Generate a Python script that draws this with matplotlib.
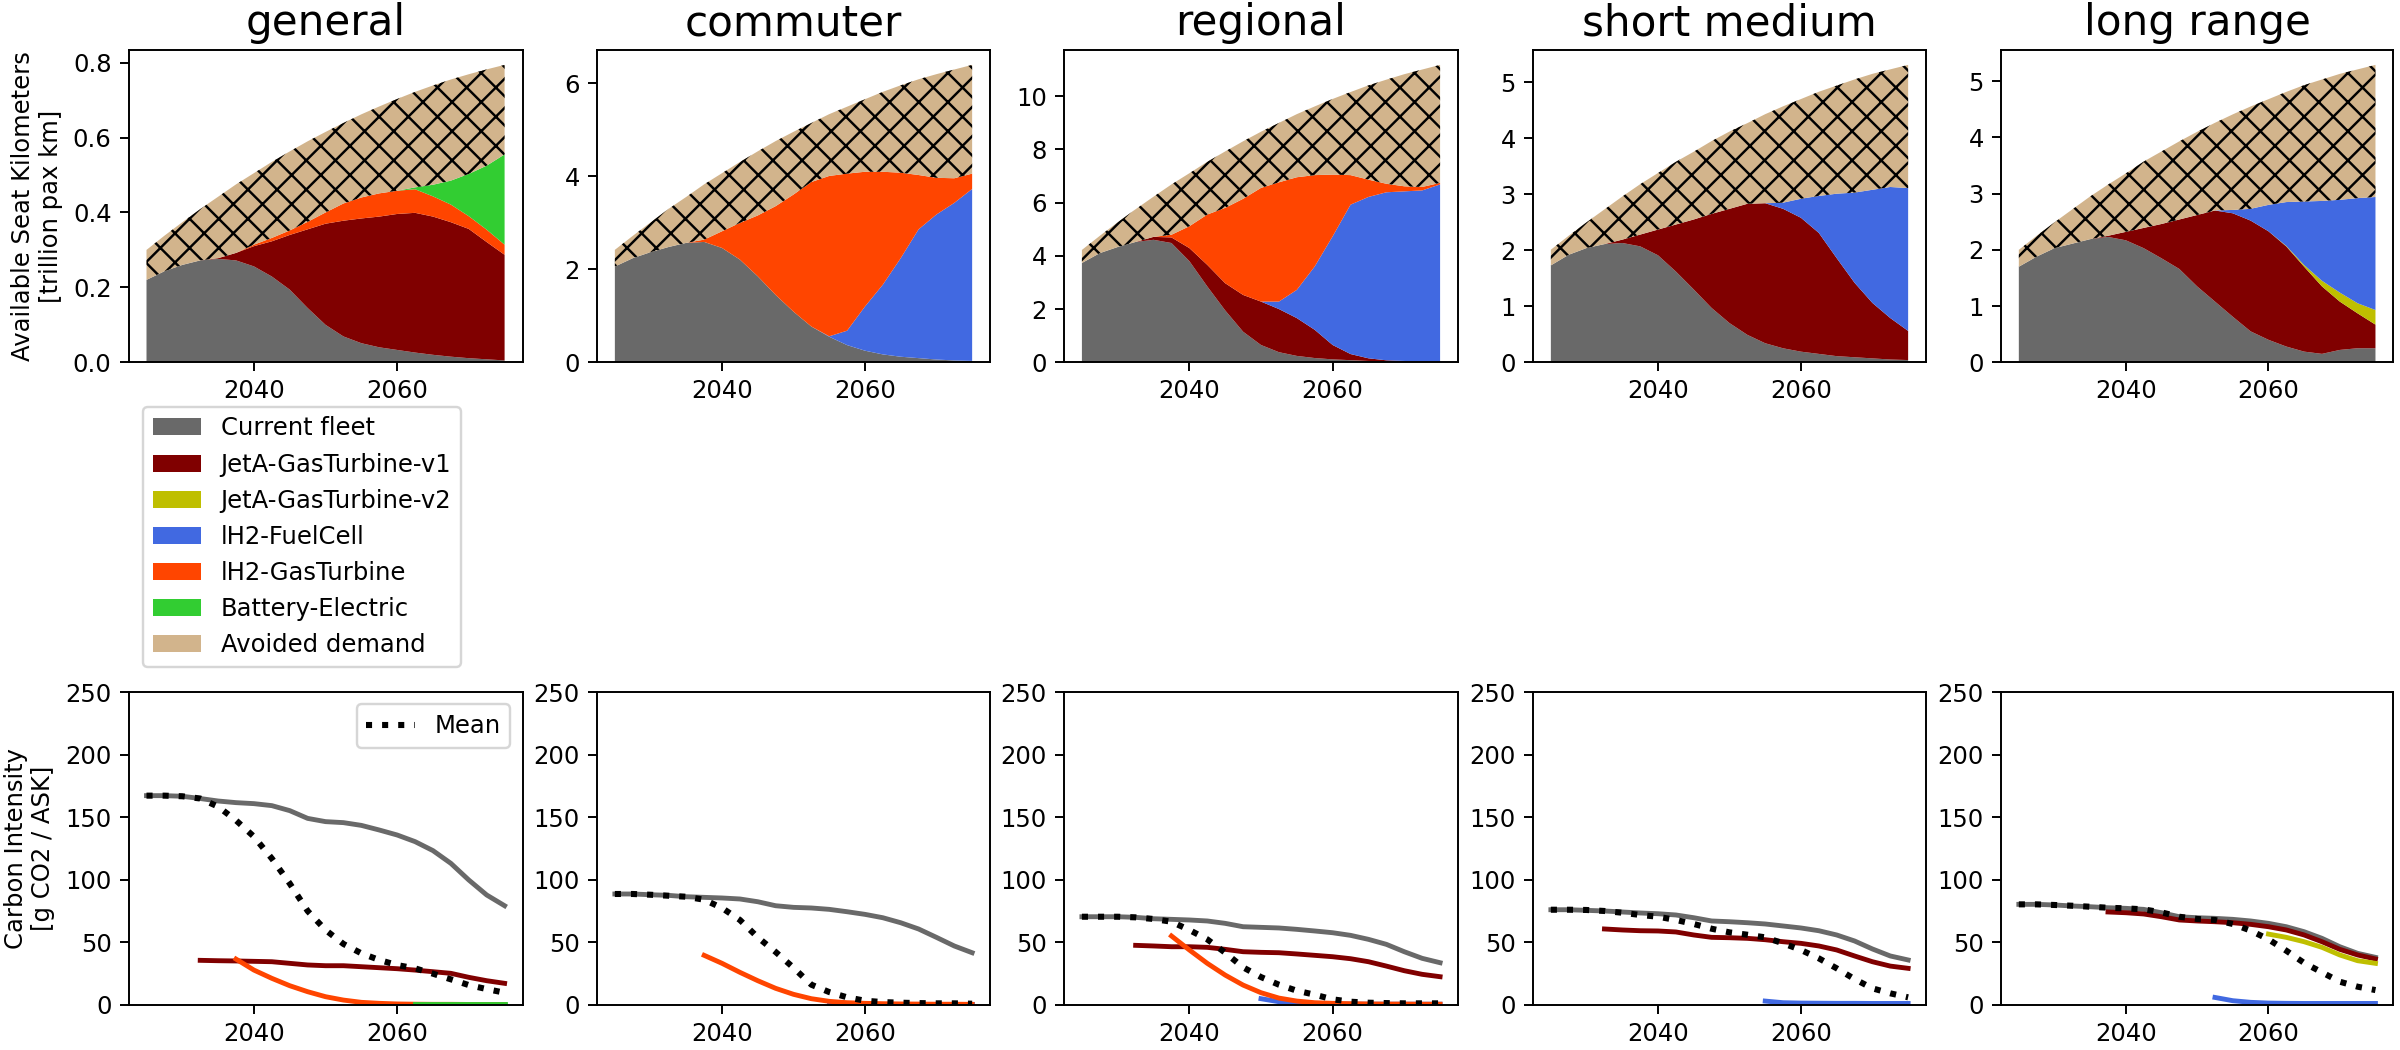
import numpy as np
import matplotlib
matplotlib.use("Agg")
import matplotlib.pyplot as plt
from matplotlib.patches import Patch

nan = np.nan

# ---------------- data ----------------
years = [2025, 2027.5, 2030, 2032.5, 2035, 2037.5, 2040, 2042.5, 2045, 2047.5,
         2050, 2052.5, 2055, 2057.5, 2060, 2062.5, 2065, 2067.5, 2070, 2072.5, 2075]

segments = ["general", "commuter", "regional", "short medium", "long range"]
technologies = ["Current fleet", "JetA-GasTurbine-v1", "JetA-GasTurbine-v2",
                "lH2-FuelCell", "lH2-GasTurbine", "Battery-Electric"]
tech_colors = ["dimgray", "maroon", "#bfbf00", "royalblue", "orangered", "limegreen"]
avoided_label = "Avoided demand"
avoided_color = "tan"

zeros = [0.0] * 21

# Available seat kilometres [trillion pax km]
gen_current = [0.220, 0.243, 0.260, 0.272, 0.276, 0.272, 0.256, 0.229, 0.194, 0.145, 0.100,
               0.069, 0.051, 0.040, 0.033, 0.026, 0.020, 0.015, 0.011, 0.008, 0.005]
gen_jeta1 = [0, 0, 0, 0, 0.002, 0.020, 0.054, 0.094, 0.146, 0.210, 0.270,
             0.309, 0.333, 0.349, 0.363, 0.373, 0.369, 0.359, 0.345, 0.313, 0.282]
gen_h2gt = [0, 0, 0, 0, 0, 0, 0.004, 0.009, 0.012, 0.020, 0.030,
            0.046, 0.056, 0.062, 0.062, 0.063, 0.054, 0.047, 0.034, 0.033, 0.027]
gen_batt = [0, 0, 0, 0, 0, 0, 0, 0, 0, 0, 0, 0, 0, 0, 0,
            0.005, 0.031, 0.064, 0.113, 0.171, 0.241]
gen_avoided = [0.080, 0.095, 0.114, 0.137, 0.164, 0.183, 0.191, 0.203, 0.211, 0.215, 0.215,
               0.215, 0.222, 0.232, 0.245, 0.255, 0.265, 0.270, 0.266, 0.257, 0.239]

com_current = [2.06, 2.24, 2.37, 2.48, 2.57, 2.59, 2.46, 2.21, 1.85, 1.45, 1.09,
               0.77, 0.55, 0.37, 0.25, 0.17, 0.12, 0.09, 0.06, 0.04, 0.03]
com_fc = [0, 0, 0, 0, 0, 0, 0, 0, 0, 0, 0, 0,
          0.01, 0.31, 0.95, 1.50, 2.12, 2.77, 3.12, 3.39, 3.70]
com_h2gt = [0, 0, 0, 0, 0, 0.05, 0.36, 0.79, 1.31, 1.91, 2.52,
            3.11, 3.45, 3.38, 2.90, 2.43, 1.84, 1.17, 0.79, 0.53, 0.33]
com_avoided = [0.36, 0.48, 0.64, 0.82, 0.99, 1.19, 1.25, 1.31, 1.38, 1.40, 1.35,
               1.27, 1.33, 1.44, 1.56, 1.72, 1.88, 2.06, 2.23, 2.34, 2.34]

reg_current = [3.73, 4.10, 4.33, 4.52, 4.60, 4.48, 3.80, 2.85, 1.95, 1.15, 0.65,
               0.38, 0.24, 0.16, 0.11, 0.08, 0.05, 0.04, 0.03, 0.02, 0.01]
reg_jeta1 = [0, 0, 0, 0, 0.11, 0.21, 0.49, 0.81, 1.02, 1.38, 1.63,
             1.62, 1.42, 1.06, 0.54, 0.23, 0.10, 0.035, 0.02, 0.005, 0]
reg_fc = [0, 0, 0, 0, 0, 0, 0, 0, 0, 0, 0,
          0.28, 1.06, 2.38, 4.08, 5.61, 6.06, 6.31, 6.37, 6.43, 6.67]
reg_h2gt = [0, 0, 0, 0, 0, 0.10, 0.82, 1.89, 2.83, 3.61, 4.27,
            4.48, 4.23, 3.43, 2.32, 1.11, 0.65, 0.32, 0.19, 0.13, 0.06]
reg_avoided = [0.49, 0.65, 0.93, 1.23, 1.51, 1.89, 1.99, 1.98, 2.12, 2.16, 2.11,
               2.23, 2.37, 2.58, 2.84, 3.12, 3.54, 3.91, 4.21, 4.41, 4.43]

sm_current = [1.73, 1.92, 2.04, 2.11, 2.13, 2.07, 1.91, 1.62, 1.30, 0.97, 0.70,
              0.49, 0.34, 0.25, 0.19, 0.15, 0.11, 0.09, 0.07, 0.05, 0.04]
sm_jeta1 = [0, 0, 0, 0, 0.06, 0.21, 0.46, 0.84, 1.25, 1.68, 2.04,
            2.34, 2.50, 2.49, 2.39, 2.16, 1.75, 1.33, 0.99, 0.74, 0.52]
sm_fc = [0, 0, 0, 0, 0, 0, 0, 0, 0, 0, 0, 0, 0,
         0.11, 0.34, 0.66, 1.15, 1.61, 2.02, 2.34, 2.55]
sm_avoided = [0.28, 0.34, 0.46, 0.62, 0.77, 0.90, 1.01, 1.12, 1.21, 1.30, 1.38,
              1.44, 1.59, 1.72, 1.78, 1.86, 1.93, 2.02, 2.07, 2.10, 2.20]

lr_current = [1.70, 1.88, 2.03, 2.11, 2.19, 2.23, 2.17, 2.03, 1.85, 1.66, 1.35,
              1.08, 0.81, 0.55, 0.40, 0.28, 0.19, 0.15, 0.22, 0.25, 0.25]
lr_jeta1 = [0, 0, 0, 0, 0, 0.02, 0.15, 0.36, 0.61, 0.88, 1.27,
            1.62, 1.84, 1.97, 1.93, 1.78, 1.51, 1.20, 0.86, 0.62, 0.42]
lr_jeta2 = [0, 0, 0, 0, 0, 0, 0, 0, 0, 0, 0, 0, 0, 0, 0,
            0.01, 0.03, 0.10, 0.16, 0.18, 0.26]
lr_fc = [0, 0, 0, 0, 0, 0, 0, 0, 0, 0, 0, 0,
         0.06, 0.21, 0.47, 0.78, 1.13, 1.42, 1.65, 1.87, 2.01]
lr_avoided = [0.30, 0.37, 0.46, 0.61, 0.76, 0.91, 1.04, 1.18, 1.29, 1.39, 1.48,
              1.56, 1.70, 1.82, 1.88, 1.96, 2.07, 2.16, 2.24, 2.29, 2.35]

# Carbon intensity [g CO2 / ASK]
gen_ci_current = [167.3, 167.3, 166.8, 165.0, 163.0, 161.7, 160.9, 159.3, 155.3, 149.1, 146.5,
                  145.7, 143.5, 139.8, 135.8, 130.5, 123.3, 113.1, 99.8, 87.8, 79.2]
gen_ci_jeta1 = [nan, nan, nan, 35.5, 35.2, 35.0, 34.7, 34.4, 33.1, 31.8, 31.2,
                31.2, 30.4, 29.6, 28.8, 27.7, 26.4, 25.1, 21.9, 19.2, 17.1]
gen_ci_h2gt = [nan, nan, nan, nan, nan, 36.5, 27.7, 21.1, 15.2, 10.4, 6.4,
               3.7, 1.9, 1.1, 0.6, 0.4, 0.3, 0.3, 0.2, 0.2, 0.2]
gen_ci_batt = [nan, nan, nan, nan, nan, nan, nan, nan, nan, nan, nan,
               nan, nan, nan, nan, 0.8, 0.8, 0.8, 0.8, 0.8, 0.8]
gen_ci_mean = [167.3, 167.3, 166.8, 165.0, 158.5, 147.5, 134.5, 117.0, 97.0, 75.0, 59.8,
               48.6, 41.1, 35.8, 31.7, 29.1, 24.8, 20.3, 15.7, 12.5, 9.6]

com_ci_current = [88.6, 88.6, 88.0, 87.5, 86.4, 85.9, 85.4, 84.6, 82.4, 79.2, 77.9,
                  77.4, 76.3, 74.4, 72.3, 69.6, 65.6, 60.6, 53.9, 47.0, 41.6]
com_ci_fc = [nan, nan, nan, nan, nan, nan, nan, nan, nan, nan, nan, nan,
             0.3, 0.3, 0.3, 0.3, 0.3, 0.3, 0.3, 0.3, 0.3]
com_ci_h2gt = [nan, nan, nan, nan, nan, 39.5, 33.1, 25.9, 19.2, 13.1, 8.3,
               4.8, 2.7, 1.6, 1.1, 0.8, 0.6, 0.5, 0.4, 0.4, 0.3]
com_ci_mean = [88.6, 88.6, 88.0, 87.2, 86.4, 84.0, 77.4, 67.8, 53.9, 42.2, 29.6,
               16.0, 10.1, 5.9, 3.2, 2.1, 1.6, 1.3, 1.1, 1.1, 0.8]

reg_ci_current = [70.4, 70.4, 70.4, 69.9, 68.8, 68.3, 67.8, 67.0, 65.1, 62.4, 61.9,
                  61.4, 60.3, 59.0, 57.6, 55.5, 52.3, 48.3, 42.4, 37.1, 33.6]
reg_ci_jeta1 = [nan, nan, nan, 47.5, 47.0, 46.4, 46.4, 45.9, 44.3, 42.4, 41.9,
                41.6, 40.6, 39.5, 38.4, 36.8, 34.4, 30.9, 27.2, 24.3, 22.4]
reg_ci_fc = [nan, nan, nan, nan, nan, nan, nan, nan, nan, nan, 4.8,
             2.4, 1.3, 0.8, 0.5, 0.5, 0.4, 0.4, 0.4, 0.4, 0.4]
reg_ci_h2gt = [nan, nan, nan, nan, nan, 55.0, 43.8, 33.1, 23.7, 15.7, 9.6,
               5.3, 2.9, 1.6, 1.1, 0.8, 0.6, 0.5, 0.5, 0.4, 0.4]
reg_ci_mean = [70.4, 70.4, 70.4, 69.9, 68.6, 66.4, 59.8, 52.3, 41.6, 29.9, 22.1,
               16.0, 11.2, 8.0, 4.3, 2.4, 1.6, 1.3, 1.1, 1.1, 1.1]

sm_ci_current = [76.0, 76.0, 75.5, 75.0, 74.2, 73.4, 72.8, 71.8, 69.6, 67.0, 66.4,
                 65.6, 64.6, 63.0, 61.4, 59.2, 55.8, 51.0, 44.6, 39.0, 35.8]
sm_ci_jeta1 = [nan, nan, nan, 60.6, 59.8, 59.2, 59.0, 58.2, 55.8, 53.9, 53.6,
               53.1, 52.0, 50.4, 49.1, 47.0, 43.8, 39.0, 34.4, 30.9, 29.1]
sm_ci_fc = [nan, nan, nan, nan, nan, nan, nan, nan, nan, nan, nan, nan,
            2.9, 1.6, 1.3, 1.2, 1.1, 1.1, 1.0, 1.0, 1.0]
sm_ci_mean = [76.0, 76.0, 75.8, 75.0, 73.6, 71.8, 70.4, 67.8, 64.6, 60.8, 57.9,
              56.0, 53.9, 49.1, 43.8, 37.1, 29.1, 20.5, 13.1, 9.1, 5.9]

lr_ci_current = [80.3, 80.3, 79.8, 79.0, 78.4, 77.6, 77.1, 76.3, 73.6, 70.4, 69.6,
                 69.1, 68.3, 67.0, 65.1, 62.4, 58.4, 53.1, 46.4, 41.1, 37.9]
lr_ci_jeta1 = [nan, nan, nan, nan, nan, 74.2, 73.6, 72.6, 70.4, 67.8, 67.0,
               66.4, 65.6, 64.3, 62.4, 59.8, 55.8, 50.4, 44.3, 39.8, 36.6]
lr_ci_jeta2 = [nan, nan, nan, nan, nan, nan, nan, nan, nan, nan, nan,
               nan, nan, nan, 56.5, 53.9, 50.4, 45.9, 39.8, 35.2, 33.1]
lr_ci_fc = [nan, nan, nan, nan, nan, nan, nan, nan, nan, nan, nan,
            5.8, 3.2, 1.9, 1.3, 1.1, 1.0, 1.0, 1.0, 1.0, 1.0]
lr_ci_mean = [80.3, 80.3, 79.8, 79.2, 78.4, 77.6, 77.1, 76.3, 73.9, 70.4, 68.6,
              67.8, 64.6, 59.3, 52.3, 43.2, 33.4, 25.9, 18.4, 14.4, 11.7]

nans = [nan] * 21

ask_data = {
    "general":      [gen_current, gen_jeta1, zeros, zeros, gen_h2gt, gen_batt],
    "commuter":     [com_current, zeros, zeros, com_fc, com_h2gt, zeros],
    "regional":     [reg_current, reg_jeta1, zeros, reg_fc, reg_h2gt, zeros],
    "short medium": [sm_current, sm_jeta1, zeros, sm_fc, zeros, zeros],
    "long range":   [lr_current, lr_jeta1, lr_jeta2, lr_fc, zeros, zeros],
}
avoided_data = {
    "general": gen_avoided, "commuter": com_avoided, "regional": reg_avoided,
    "short medium": sm_avoided, "long range": lr_avoided,
}
ci_data = {
    "general":      [gen_ci_current, gen_ci_jeta1, nans, nans, gen_ci_h2gt, gen_ci_batt],
    "commuter":     [com_ci_current, nans, nans, com_ci_fc, com_ci_h2gt, nans],
    "regional":     [reg_ci_current, reg_ci_jeta1, nans, reg_ci_fc, reg_ci_h2gt, nans],
    "short medium": [sm_ci_current, sm_ci_jeta1, nans, sm_ci_fc, nans, nans],
    "long range":   [lr_ci_current, lr_ci_jeta1, lr_ci_jeta2, lr_ci_fc, nans, nans],
}
ci_mean = {
    "general": gen_ci_mean, "commuter": com_ci_mean, "regional": reg_ci_mean,
    "short medium": sm_ci_mean, "long range": lr_ci_mean,
}

# ---------------- figure ----------------
plt.rcParams["font.family"] = ["DejaVu Sans"]
plt.rcParams["font.size"] = 10
plt.rcParams["hatch.linewidth"] = 1.0

DPI = 175
W, H = 2400, 1050
fig = plt.figure(figsize=(W / DPI, H / DPI), dpi=DPI)


def rect(left, right, top, bottom):
    return [left / W, 1 - bottom / H, (right - left) / W, (bottom - top) / H]


lefts = [128.6, 597, 1064, 1533, 2001]
rights = [522.5, 990, 1458, 1926, 2393.3]

for i, seg in enumerate(segments):
    # --- top: stacked available seat kilometres ---
    ax = fig.add_axes(rect(lefts[i], rights[i], 50, 362.3))
    polys = ax.stackplot(years, *[np.array(s, float) for s in ask_data[seg]],
                         np.array(avoided_data[seg], float),
                         colors=tech_colors + [avoided_color], linewidth=0)
    polys[-1].set_hatch("xx")
    polys[-1].set_edgecolor("black")
    polys[-1].set_linewidth(0)
    ax.set_title(seg, fontsize="xx-large")
    ax.set_xticks([2040, 2060])
    if i == 0:
        ax.set_ylabel("Available Seat Kilometers\n[trillion pax km]")

    # --- bottom: carbon intensity ---
    axb = fig.add_axes(rect(lefts[i], rights[i], 692.3, 1004.7))
    for series, col in zip(ci_data[seg], tech_colors):
        axb.plot(years, np.array(series, float), color=col, lw=2)
    axb.plot(years, ci_mean[seg], color="black", ls=":", lw=2.5, label="Mean")
    axb.set_ylim(0, 250)
    axb.set_xticks([2040, 2060])
    axb.set_xlim(ax.get_xlim())
    if i == 0:
        axb.set_ylabel("Carbon Intensity\n[g CO2 / ASK]")
        axb.legend(loc="upper right")

handles = [Patch(facecolor=c, label=t) for t, c in zip(technologies, tech_colors)]
handles.append(Patch(facecolor=avoided_color, label=avoided_label))
fig.legend(handles=handles, loc="upper left", bbox_to_anchor=(142.9 / W, 1 - 406.7 / H),
           borderaxespad=0)

fig.savefig("out.png", dpi=DPI)
